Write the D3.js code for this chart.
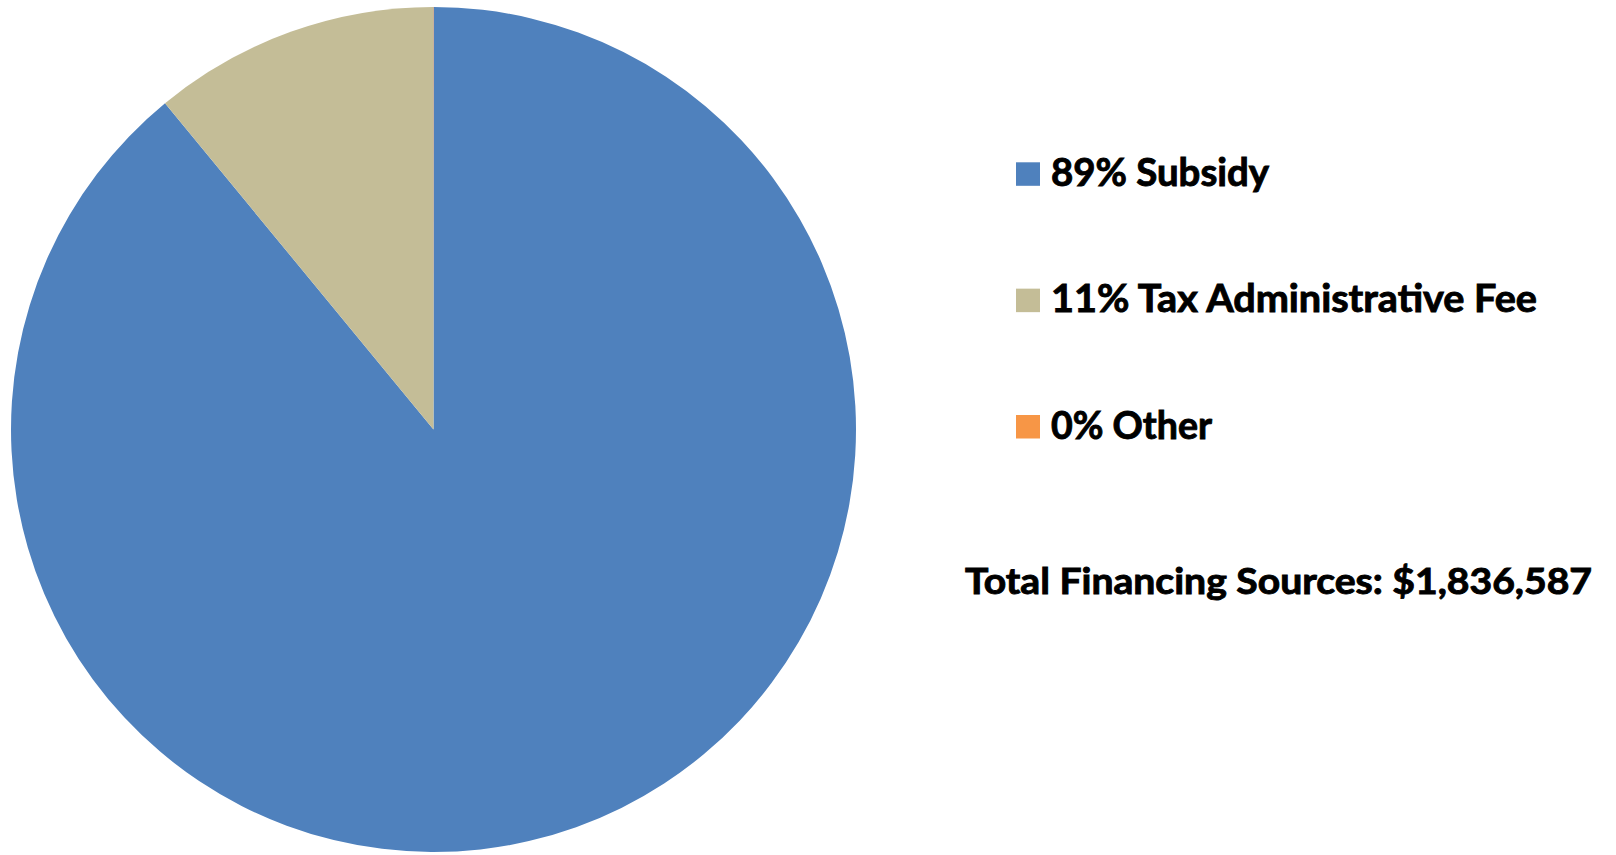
<!DOCTYPE html>
<html>
<head>
<meta charset="utf-8">
<script src="https://cdn.jsdelivr.net/npm/d3@7"></script>
<style>
  html, body { margin: 0; padding: 0; background: #ffffff; }
  svg { display: block; }
  text { font-family: Lato, "Open Sans", "Noto Sans", sans-serif; font-weight: 700; fill: #000; stroke: #000; stroke-width: 0.9px; }
</style>
</head>
<body>
<svg id="chart" width="1616" height="855"></svg>
<script>
// Financing sources (dollars)
const categories = ["Subsidy", "Tax Administrative Fee", "Other"];
const amounts = [1635300, 201000, 287];
const percentLabels = ["89%", "11%", "0%"];
const colors = ["#4F81BD", "#C4BD97", "#F79646"];
const totalLabel = "Total Financing Sources: $1,836,587";

const svg = d3.select("#chart");

// Pie geometry
const cx = 433.5, cy = 429.5, radius = 422.5;

const pie = d3.pie().sort(null).value(d => d.value);
const arc = d3.arc().innerRadius(0).outerRadius(radius);
const data = categories.map((c, i) => ({ name: c, value: amounts[i], color: colors[i], pct: percentLabels[i] }));

svg.append("g")
  .attr("transform", `translate(${cx},${cy})`)
  .selectAll("path")
  .data(pie(data))
  .join("path")
  .attr("d", arc)
  .attr("fill", d => d.data.color);

// Legend
const legendX = 1016, legendTop = 162.3, rowGap = 126.35, boxW = 24, boxH = 23.5;
const legendWidths = [218, 486, 161];
const rows = svg.append("g").selectAll("g.row").data(data).join("g")
  .attr("class", "row")
  .attr("transform", (d, i) => `translate(${legendX},${legendTop + i * rowGap})`);
rows.append("rect")
  .attr("width", boxW).attr("height", boxH)
  .attr("fill", d => d.color);
rows.append("text")
  .attr("x", 35).attr("y", boxH)
  .attr("font-size", 37.5)
  .attr("textLength", (d, i) => legendWidths[i])
  .attr("lengthAdjust", "spacingAndGlyphs")
  .text(d => `${d.pct} ${d.name}`);

svg.append("text")
  .attr("x", 965).attr("y", 594)
  .attr("font-size", 35.5)
  .attr("textLength", 627)
  .attr("lengthAdjust", "spacingAndGlyphs")
  .text(totalLabel);
</script>
</body>
</html>
